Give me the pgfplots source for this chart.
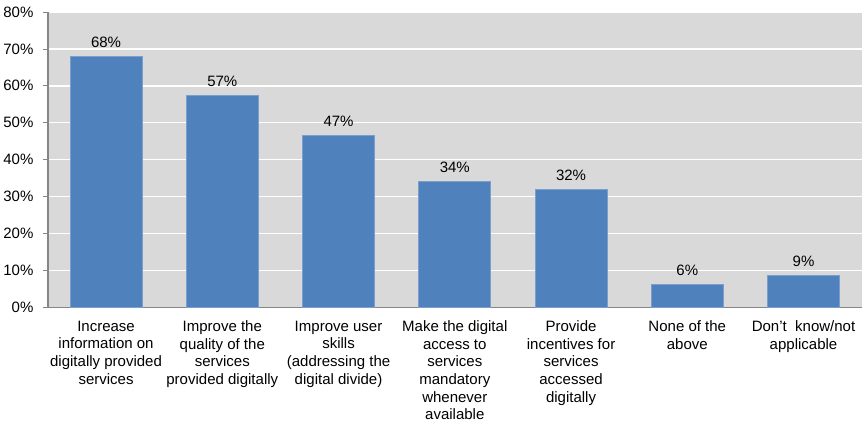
\documentclass[border=0pt]{standalone}
\usepackage{fontspec}
\setmainfont{Liberation Sans}
\usepackage{pgfplots}
\pgfplotsset{compat=1.18}

\definecolor{barblue}{HTML}{4F81BD}
\definecolor{baredge}{HTML}{7A9FCC}
\definecolor{plotgray}{HTML}{D9D9D9}
\definecolor{axisgray}{HTML}{868686}

\begin{document}
\begin{tikzpicture}
\begin{axis}[
    scale only axis,
    width=813pt, height=295pt,
    xmin=-0.5, xmax=6.5,
    ymin=0, ymax=80,
    axis background/.style={fill=plotgray},
    axis x line*=bottom, axis y line*=left,
    axis line style={axisgray, line width=1.2pt, -},
    ytick={0,10,...,80},
    yticklabel={\pgfmathprintnumber{\tick}\%},
    /pgf/number format/assume math mode=true,
    y tick label style={font=\fontsize{15}{17}\selectfont, xshift=-6pt},
    ytick style={axisgray, line width=0.8pt},
    tick align=outside,
    major tick length=5pt,
    ymajorgrids,
    grid style={white, line width=1.5pt},
    xtick={0,...,6},
    xtick style={draw=none},
    xticklabels={
      {Increase\\information on\\digitally provided\\services},
      {Improve the\\quality of the\\services\\provided digitally},
      {Improve user\\skills\\(addressing the\\digital divide)},
      {Make the digital\\access to\\services\\mandatory\\whenever\\available},
      {Provide\\incentives for\\services\\accessed\\digitally},
      {None of the\\above},
      {Don't\ \ know/not\\applicable}},
    x tick label style={align=center, font=\fontsize{15}{17.6}\selectfont, yshift=-5pt},
    extra x ticks={-0.5,0.5,...,6.5},
    extra x tick labels={},
    extra x tick style={grid=none, tick style={draw=axisgray, line width=0.8pt}},
    ybar, bar width=0.62,
    nodes near coords={\pgfmathprintnumber[fixed,precision=0]{\pgfplotspointmeta}\%},
    nodes near coords style={font=\fontsize{15}{17}\selectfont, text=black, yshift=5pt},
    clip=false,
]
\addplot[fill=barblue, draw=baredge, line width=0.8pt] coordinates {
  (0,68.0) (1,57.4) (2,46.6) (3,34.1) (4,32.0) (5,6.2) (6,8.7)};
\end{axis}
\path ([yshift=12pt]current axis.north);
\end{tikzpicture}
\end{document}
